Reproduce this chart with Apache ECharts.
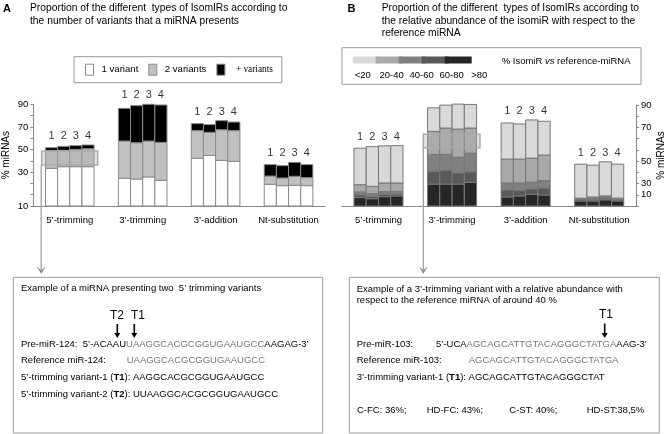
<!DOCTYPE html>
<html><head><meta charset="utf-8">
<script src="https://cdn.jsdelivr.net/npm/echarts@6/dist/echarts.min.js"></script>
<style>html,body{margin:0;padding:0;background:#fff}#c{width:672px;height:434px}</style>
</head><body><div id="c"></div><script>
// ---------- data ----------
const categories = ["5’-trimming", "3’-trimming", "3’-addition", "Nt-substitution"];
const barNumbers = ['1', '2', '3', '4'];
const yTickValuesA = [0, 30, 50, 70, 90];
const yTickLabelsA = ['10', '30', '50', '70', '90'];
const yTickValuesB = [10, 20, 40, 70, 90];
const yTickLabelsB = ['10', '30', '50', '70', '90'];

// Panel A: % miRNAs by number of variants (4 bars per category)
const oneVariant   = [33.3, 34.8, 34.8, 34.8, 24.5, 23.9, 25.7, 22.7, 42.2, 44.8, 40.4, 39.5, 19.2, 18.0, 18.3, 18.0];
const twoVariants  = [15.7, 14.5, 15.3, 15.9, 33.0, 32.1, 31.8, 33.6, 24.5, 20.4, 27.1, 27.2, 7.3, 6.8, 8.0, 7.1];
const moreVariants = [2.6, 3.5, 3.3, 3.3, 28.9, 32.8, 32.5, 33.1, 6.2, 6.8, 8.0, 7.6, 10.1, 10.9, 12.3, 11.5];

// Panel B: % miRNAs by relative abundance of isomiR vs reference miRNA
const below20    = [32.5, 35.4, 33.1, 33.3, 21.0, 20.4, 22.3, 21.0, 32.2, 31.3, 34.0, 30.1, 30.3, 28.4, 30.4, 30.3];
const from20to40 = [6.5, 6.5, 7.7, 7.5, 20.5, 23.5, 25.0, 22.5, 21.2, 21.2, 21.5, 22.7, 0.5, 1.0, 1.0, 0.5];
const from40to60 = [2.5, 2.5, 2.4, 2.3, 15.0, 14.0, 14.0, 16.5, 6.3, 6.9, 6.0, 6.6, 0.5, 1.0, 1.0, 0.5];
const from60to80 = [2.5, 2.0, 2.1, 1.8, 11.5, 12.5, 10.0, 9.5, 6.2, 4.7, 4.7, 6.3, 1.5, 1.5, 1.5, 1.5];
const above80    = [7.5, 6.5, 8.3, 8.9, 19.5, 19.5, 19.5, 21.0, 8.1, 9.0, 10.5, 9.8, 4.5, 4.5, 5.5, 4.5];

// ---------- layout helpers ----------
const FONT = "'Liberation Sans', Arial, sans-serif";
const NSLOT = 24;                       // 1 blank + 4 bars + 2 blanks ... + 1 blank
const slotOf = [];
categories.forEach((c, g) => barNumbers.forEach((n, k) => slotOf.push(1 + 6 * g + k)));
const slotLabels = Array.from({length: NSLOT}, (_, s) => {
  const g = categories.findIndex((c, gi) => s === 2 + 6 * gi);
  return g >= 0 ? categories[g] : '';
});
const gridA = {left: 33.3, top: 104.3, width: 291.7, height: 101.7};
const gridB = {left: 341.7, top: 105, width: 294.3, height: 101};
const bwA = gridA.width / NSLOT, bwB = gridB.width / NSLOT;

function totals(arrs) { return slotOf.map((s, i) => arrs.reduce((t, a) => t + a[i], 0)); }
function groupMax(t) { return categories.map((c, g) => Math.max(...t.slice(4 * g, 4 * g + 4))); }
const gmA = groupMax(totals([oneVariant, twoVariants, moreVariants]));
const gmB = groupMax(totals([below20, from20to40, from40to60, from60to80, above80]));

// stacked bars drawn as [slot, base, top] through the axes' own scales
function stackSeries(names, arrs, axis, colors, border) {
  const base = slotOf.map(() => 0);
  return arrs.map((arr, j) => {
    const data = arr.map((v, i) => { const lo = base[i]; base[i] += v; return [slotOf[i], lo, base[i]]; });
    return {
      name: names[j], type: 'custom', xAxisIndex: axis, yAxisIndex: axis, silent: true,
      itemStyle: {color: colors[j], borderColor: border, borderWidth: 1},
      encode: {x: 0, y: [1, 2]}, data,
      renderItem: (params, api) => {
        const s = api.value(0);
        const p0 = api.coord([s, api.value(1)]), p1 = api.coord([s, api.value(2)]);
        const w = api.size([1, 0])[0];
        return {type: 'rect', shape: {x: p0[0] - w / 2, y: p1[1], width: w, height: p0[1] - p1[1]},
          style: {fill: colors[j], stroke: border, lineWidth: 1}};
      }
    };
  });
}
function numberSeries(axis, gm) {
  return {
    type: 'scatter', xAxisIndex: axis, yAxisIndex: axis, symbolSize: 1, z: 5, silent: true,
    itemStyle: {color: 'rgba(0,0,0,0)'},
    data: slotOf.map((s, i) => ({value: [s, gm[Math.floor(i / 4)]], name: barNumbers[i % 4]})),
    label: {show: true, position: 'top', distance: 3, formatter: p => p.name, fontSize: 11, color: '#000', fontFamily: FONT}
  };
}
function xAxis(idx, bw) {
  return {
    gridIndex: idx, type: 'category', data: slotLabels, boundaryGap: true,
    axisLine: {show: true, lineStyle: {color: '#888'}}, axisTick: {show: false}, splitLine: {show: false},
    axisLabel: {interval: 0, fontSize: 9.5, color: '#000', margin: 9, fontFamily: FONT, padding: [0, 0, 0, bw]}
  };
}
const tickVals = Array.from({length: 10}, (_, i) => i * 10);
function yAxis(idx, pos, vals, labs, gap) {
  return {
    gridIndex: idx, type: 'value', position: pos, min: 0, max: 90, interval: 10,
    axisLine: {show: true, lineStyle: {color: '#888'}},
    axisTick: {show: true, length: 3, customValues: tickVals, lineStyle: {color: '#888'}},
    axisLabel: {customValues: vals, formatter: v => labs[vals.indexOf(v)], fontSize: 9.5, color: '#000', margin: 5, fontFamily: FONT},
    splitLine: {show: false},
    name: '% miRNAs', nameLocation: 'middle', nameGap: gap, nameRotate: 90,
    nameTextStyle: {fontSize: 10, color: '#000', fontFamily: FONT}
  };
}

// ---------- graphics (annotations) ----------
const G = [];
function txt(x, y, text, o = {}) {
  G.push({type: 'text', x, y, silent: true, z: 10, style: Object.assign({text, fontSize: 9.5, fontFamily: FONT, fill: '#000', verticalAlign: 'middle', align: 'left'}, o)});
}
function rect(x, y, w, h, stroke, fill) {
  G.push({type: 'rect', silent: true, z: 10, shape: {x, y, width: w, height: h}, style: {fill: fill || 'none', stroke, lineWidth: fill ? 1.5 : 1}});
}
function vline(x, y1, y2, stroke, lw) {
  G.push({type: 'line', silent: true, z: 10, shape: {x1: x, y1, x2: x, y2}, style: {stroke, lineWidth: lw}});
}
function head(x, y, w, h, fill) {
  G.push({type: 'polygon', silent: true, z: 10, shape: {points: [[x - w, y - h], [x, y], [x + w, y - h], [x, y - h * 0.45]]}, style: {fill}});
}
function tArrow(x, y1, y2) {
  vline(x, y1, y2 - 4, '#000', 1.6);
  G.push({type: 'polygon', silent: true, z: 10, shape: {points: [[x - 3, y2 - 5], [x + 3, y2 - 5], [x, y2]]}, style: {fill: '#000'}});
}
const rk = {k: {fill: '#000', fontSize: 9.5, fontFamily: FONT}, g: {fill: '#777', fontSize: 9.5, fontFamily: FONT},
  b: {fill: '#000', fontSize: 9.5, fontFamily: FONT, fontWeight: 'bold'}, i: {fill: '#000', fontSize: 9.5, fontFamily: FONT, fontStyle: 'italic'}};

// Titles
txt(3, 8.5, 'A', {fontSize: 11, fontWeight: 'bold'});
txt(30, 8.3, 'Proportion of the different  types of IsomIRs according to', {fontSize: 10.3});
txt(30, 20.7, 'the number of variants that a miRNA presents', {fontSize: 10.3});
txt(347.5, 8.5, 'B', {fontSize: 11, fontWeight: 'bold'});
txt(381.7, 8.3, 'Proportion of the different  types of IsomIRs according to', {fontSize: 10.3});
txt(381.7, 20.7, 'the relative abundance of the isomiR with respect to the', {fontSize: 10.3});
txt(381.7, 33.3, 'reference miRNA', {fontSize: 10.3});

// B legend frame and labels
rect(342, 47.7, 299, 36.6, '#999');
const bLegLabels = ['<20', '20-40', '40-60', '60-80', '>80'];
const bLegX = [362.7, 391.7, 421.7, 451.7, 479.3];
bLegLabels.forEach((l, i) => txt(bLegX[i], 75.7, l, {align: 'center'}));
txt(501.7, 61.3, '{k|% IsomiR }{i|vs}{k| reference-miRNA}', {rich: rk});

// highlight boxes and connectors
rect(41.7, 151, 56, 14, '#aaa', 'rgba(175,175,175,0.35)');
vline(41.2, 165, 270, '#999', 1.2);
head(41.2, 274, 4.5, 8, '#888');
rect(423.3, 134.3, 56.7, 13.4, '#aaa', 'rgba(175,175,175,0.35)');
vline(423.3, 147.7, 270, '#999', 1.2);
head(423.3, 274, 4.5, 8, '#888');

// Box A
rect(13.3, 277.3, 309.4, 155.7, '#999');
txt(21, 288.3, 'Example of a miRNA presenting two  5’ trimming variants');
txt(110, 315.7, 'T2', {fontSize: 12});
txt(131, 315.7, 'T1', {fontSize: 12});
tArrow(117.3, 324, 338);
tArrow(134.3, 324, 338);
txt(21, 344.3, '{k|Pre-miR-124:  5’-ACAAU}{g|UAAGGCACGCGGUGAAUGCC}{k|AAGAG-3’}', {rich: rk});
txt(21, 360.7, 'Reference miR-124:');
txt(126.7, 360.7, 'UAAGGCACGCGGUGAAUGCC', {fill: '#777'});
txt(21, 377.3, '{k|5’-trimming variant-1 (}{b|T1}{k|): AAGGCACGCGGUGAAUGCC}', {rich: rk});
txt(21, 394, '{k|5’-trimming variant-2 (}{b|T2}{k|): UUAAGGCACGCGGUGAAUGCC}', {rich: rk});

// Box B
rect(349.3, 277.3, 310, 155.7, '#999');
txt(356.7, 289.5, 'Example of a 3’-trimming variant with a relative abundance with');
txt(356.7, 300.2, 'respect to the reference miRNA of around 40 %');
txt(599, 315, 'T1', {fontSize: 12});
tArrow(604.7, 323.5, 338);
txt(356.7, 344.3, 'Pre-miR-103:');
txt(436, 344.3, '{k|5’-UCA}{g|AGCAGCATTGTACAGGGCTATGA}{k|AAG-3’}', {rich: rk});
txt(356.7, 360.7, 'Reference miR-103:');
txt(468.7, 360.7, 'AGCAGCATTGTACAGGGCTATGA', {fill: '#777'});
txt(356.7, 377.3, '{k|3’-trimming variant-1 (}{b|T1}{k|): AGCAGCATTGTACAGGGCTAT}', {rich: rk});
txt(357, 410, 'C-FC: 36%;');
txt(426.7, 410, 'HD-FC: 43%;');
txt(509.3, 410, 'C-ST: 40%;');
txt(586.7, 410, 'HD-ST:38,5%');

// ---------- chart ----------
const namesA = ['1 variant', '2 variants', '+ variants'];
const namesB = ['>80', '60-80', '40-60', '20-40', '<20'];
const colorsA = ['#ffffff', '#c0c0c0', '#000000'];
const colorsB = ['#262626', '#595959', '#808080', '#a9a9a9', '#d9d9d9'];
const chart = echarts.init(document.getElementById('c'), null, {renderer: 'canvas'});
chart.setOption({
  animation: false,
  backgroundColor: '#fff',
  grid: [gridA, gridB],
  xAxis: [xAxis(0, bwA), xAxis(1, bwB)],
  yAxis: [yAxis(0, 'left', yTickValuesA, yTickLabelsA, 22), yAxis(1, 'right', yTickValuesB, yTickLabelsB, 20)],
  legend: [
    {data: namesA.map((n, j) => ({name: n, itemStyle: {color: colorsA[j], borderColor: '#8a8a8a', borderWidth: 1}})),
      left: 74, top: 56.7, selectedMode: false,
      borderColor: '#999', borderWidth: 1, padding: [7, 9, 7, 11], itemWidth: 8, itemHeight: 11, itemGap: 10,
      icon: 'rect',
      formatter: n => n === '+ variants' ? '{s|+ variants}' : n,
      textStyle: {fontSize: 9.6, color: '#000', fontFamily: FONT, padding: [0, 0, 0, 3],
        rich: {s: {fontSize: 9.3, fontFamily: "'Liberation Serif', serif", color: '#000', padding: [0, 0, 0, 3]}}}},
    {data: ['<20', '20-40', '40-60', '60-80', '>80'].map(n => ({name: n, itemStyle: {color: colorsB[namesB.indexOf(n)], borderWidth: 0}})),
      left: 352.7, top: 56.5, selectedMode: false,
      padding: 0, itemWidth: 27, itemHeight: 7, itemGap: -4, icon: 'rect',
      formatter: () => '', textStyle: {fontSize: 1}}
  ],
  series: [
    ...stackSeries(namesA, [oneVariant, twoVariants, moreVariants], 0, colorsA, '#8a8a8a'),
    numberSeries(0, gmA),
    ...stackSeries(namesB, [above80, from60to80, from40to60, from20to40, below20], 1, colorsB, '#777'),
    numberSeries(1, gmB)
  ],
  graphic: G
});
</script></body></html>
